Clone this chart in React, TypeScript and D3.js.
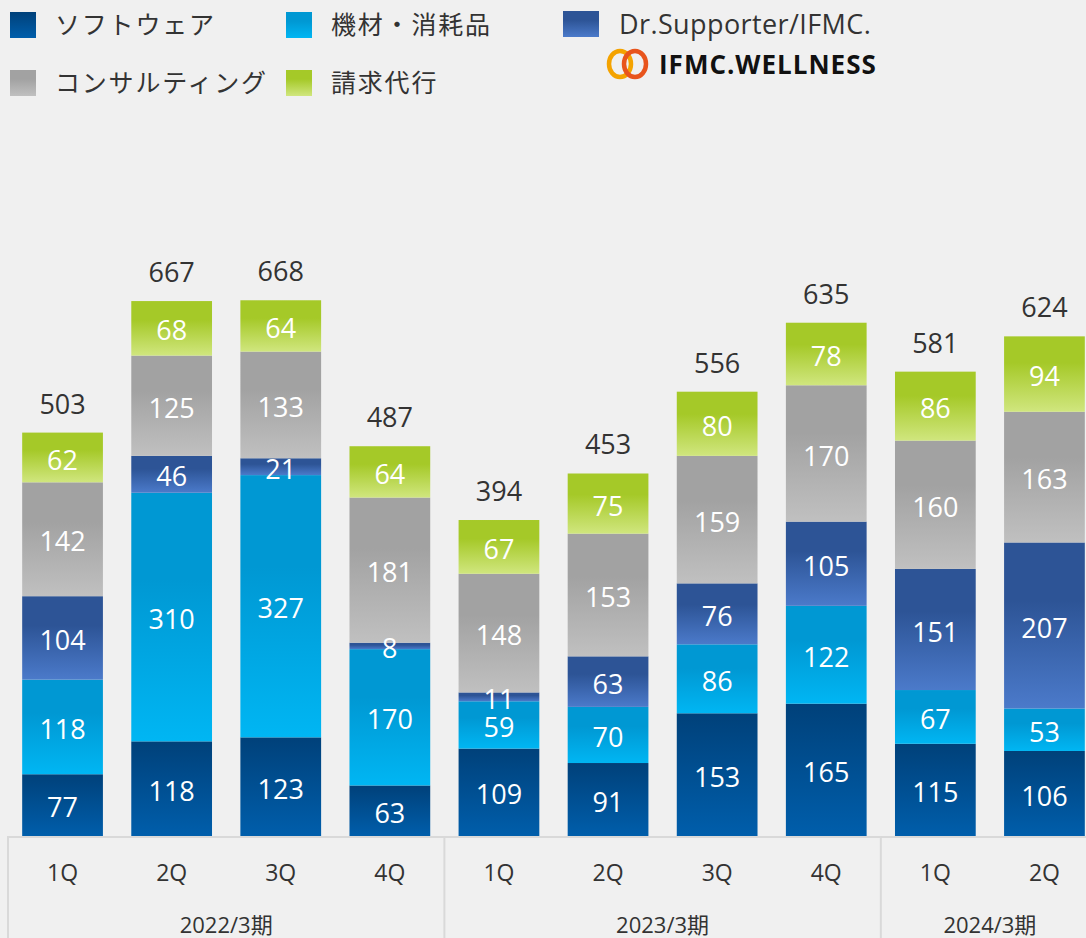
import React, { useEffect, useRef } from 'react';
import * as d3 from 'd3';

const quarters = ['1Q', '2Q', '3Q', '4Q', '1Q', '2Q', '3Q', '4Q', '1Q', '2Q'];
const periods = ['2022/3期', '2023/3期', '2024/3期'];
const periodSizes = [4, 4, 2];

const software = [77, 118, 123, 63, 109, 91, 153, 165, 115, 106];
const equipment = [118, 310, 327, 170, 59, 70, 86, 122, 67, 53];
const drSupporter = [104, 46, 21, 8, 11, 63, 76, 105, 151, 207];
const consulting = [142, 125, 133, 181, 148, 153, 159, 170, 160, 163];
const billing = [62, 68, 64, 64, 67, 75, 80, 78, 86, 94];
const totals = [503, 667, 668, 487, 394, 453, 556, 635, 581, 624];

const seriesNames = ['ソフトウェア', '機材・消耗品', 'Dr.Supporter/IFMC.', 'コンサルティング', '請求代行'];
// top colour, bottom colour
const seriesColors = [
  ['#00417a', '#005eab'],
  ['#0098d3', '#00b6f3'],
  ['#2d5496', '#4b7aca'],
  ['#a2a2a2', '#c0c0c0'],
  ['#a5c928', '#d0e67e'],
];

const W = 1086;
const H = 938;
const FONT = "'Open Sans', 'Noto Sans CJK JP', sans-serif";

const App = () => {
  const ref = useRef<SVGSVGElement>(null);

  useEffect(() => {
    const svg = d3.select(ref.current);
    svg.selectAll('*').remove();

    svg.append('rect').attr('width', W).attr('height', H).attr('fill', '#f0f0f0');

    const defs = svg.append('defs');
    seriesColors.forEach((c, i) => {
      const g = defs.append('linearGradient').attr('id', `grad${i}`)
        .attr('x1', 0).attr('y1', 0).attr('x2', 0).attr('y2', 1);
      g.append('stop').attr('offset', '0%').attr('stop-color', c[0]);
      g.append('stop').attr('offset', i === 0 ? '0%' : '35%').attr('stop-color', c[0]);
      g.append('stop').attr('offset', '100%').attr('stop-color', c[1]);
    });

    const x = d3.scaleBand<number>()
      .domain(d3.range(quarters.length))
      .range([8, 1099])
      .paddingInner(0.26)
      .paddingOuter(0.13);
    const y = d3.scaleLinear().domain([0, 700]).range([836, 836 - 700 * 0.802]);

    const rows = quarters.map((q, i) => ({
      i,
      s0: software[i], s1: equipment[i], s2: drSupporter[i], s3: consulting[i], s4: billing[i],
    }));
    const stack = d3.stack<any>().keys(['s0', 's1', 's2', 's3', 's4'])(rows);

    // axis box
    const axis = svg.append('g');
    axis.append('line').attr('x1', 8).attr('x2', W).attr('y1', 837).attr('y2', 837)
      .attr('stroke', '#d9d9d9').attr('stroke-width', 2);
    let start = 0;
    const edges = [0];
    periodSizes.forEach(n => { start += n; edges.push(start); });
    edges.slice(0, 3).forEach(e => {
      const ex = 8 + x.step() * e;
      axis.append('line').attr('x1', ex).attr('x2', ex).attr('y1', 836).attr('y2', H)
        .attr('stroke', '#d9d9d9').attr('stroke-width', 2);
    });

    axis.selectAll('text.q').data(quarters).enter().append('text')
      .attr('x', (d, i) => x(i)! + x.bandwidth() / 2)
      .attr('y', 881)
      .attr('text-anchor', 'middle')
      .attr('font-size', 23)
      .attr('fill', '#333')
      .text(d => d);

    periods.forEach((p, k) => {
      const a = 8 + x.step() * edges[k];
      const b = 8 + x.step() * edges[k + 1];
      axis.append('text')
        .attr('x', (a + b) / 2)
        .attr('y', 933)
        .attr('text-anchor', 'middle')
        .attr('font-size', 22)
        .attr('fill', '#333')
        .text(p);
    });

    // bars
    stack.forEach((layer, si) => {
      const g = svg.append('g');
      g.selectAll('rect').data(layer).enter().append('rect')
        .attr('x', (d, i) => x(i)!)
        .attr('width', x.bandwidth())
        .attr('y', d => y(d[1]))
        .attr('height', d => y(d[0]) - y(d[1]))
        .attr('fill', `url(#grad${si})`);
    });
    stack.forEach(layer => {
      svg.append('g').selectAll('text').data(layer).enter().append('text')
        .attr('x', (d, i) => x(i)! + x.bandwidth() / 2)
        .attr('y', d => (y(d[0]) + y(d[1])) / 2)
        .attr('dy', '0.45em')
        .attr('text-anchor', 'middle')
        .attr('font-size', 27)
        .attr('fill', '#fff')
        .text(d => d[1] - d[0]);
    });

    const top = stack[stack.length - 1];
    svg.append('g').selectAll('text').data(totals).enter().append('text')
      .attr('x', (d, i) => x(i)! + x.bandwidth() / 2)
      .attr('y', (d, i) => y(top[i][1]) - 19)
      .attr('text-anchor', 'middle')
      .attr('font-size', 27)
      .attr('fill', '#333')
      .text(d => d);

    // legend
    const legendPos = [
      { x: 10, y: 12, w: 26, tx: 55 },
      { x: 286, y: 12, w: 26, tx: 331 },
      { x: 563, y: 11, w: 36, tx: 619 },
      { x: 10, y: 70, w: 26, tx: 55 },
      { x: 286, y: 70, w: 26, tx: 331 },
    ];
    seriesNames.forEach((name, i) => {
      const p = legendPos[i];
      svg.append('rect').attr('x', p.x).attr('y', p.y).attr('width', p.w).attr('height', 26)
        .attr('fill', `url(#grad${i})`);
      svg.append('text')
        .attr('x', p.tx)
        .attr('y', p.y + 13)
        .attr('dy', '0.36em')
        .attr('font-size', i === 2 ? 27 : 25)
        .attr('letter-spacing', i === 2 ? 0.4 : 1.8)
        .attr('fill', '#333')
        .text(name);
    });

    // logo
    const logo = svg.append('g');
    logo.append('ellipse').attr('cx', 620).attr('cy', 64).attr('rx', 11).attr('ry', 13)
      .attr('fill', 'none').attr('stroke', '#f4a300').attr('stroke-width', 4.5);
    logo.append('ellipse').attr('cx', 635).attr('cy', 64).attr('rx', 11).attr('ry', 13)
      .attr('fill', 'none').attr('stroke', '#e8541c').attr('stroke-width', 4.5);
    logo.append('text')
      .attr('x', 659).attr('y', 74)
      .attr('font-size', 26).attr('font-weight', 700)
      .attr('letter-spacing', 1)
      .attr('fill', '#111')
      .text('IFMC.WELLNESS');
  }, []);

  return (
    <svg ref={ref} width={W} height={H} fontFamily={FONT}
      style={{ position: 'absolute', left: 0, top: 0, display: 'block' }} />
  );
};

export default App;
